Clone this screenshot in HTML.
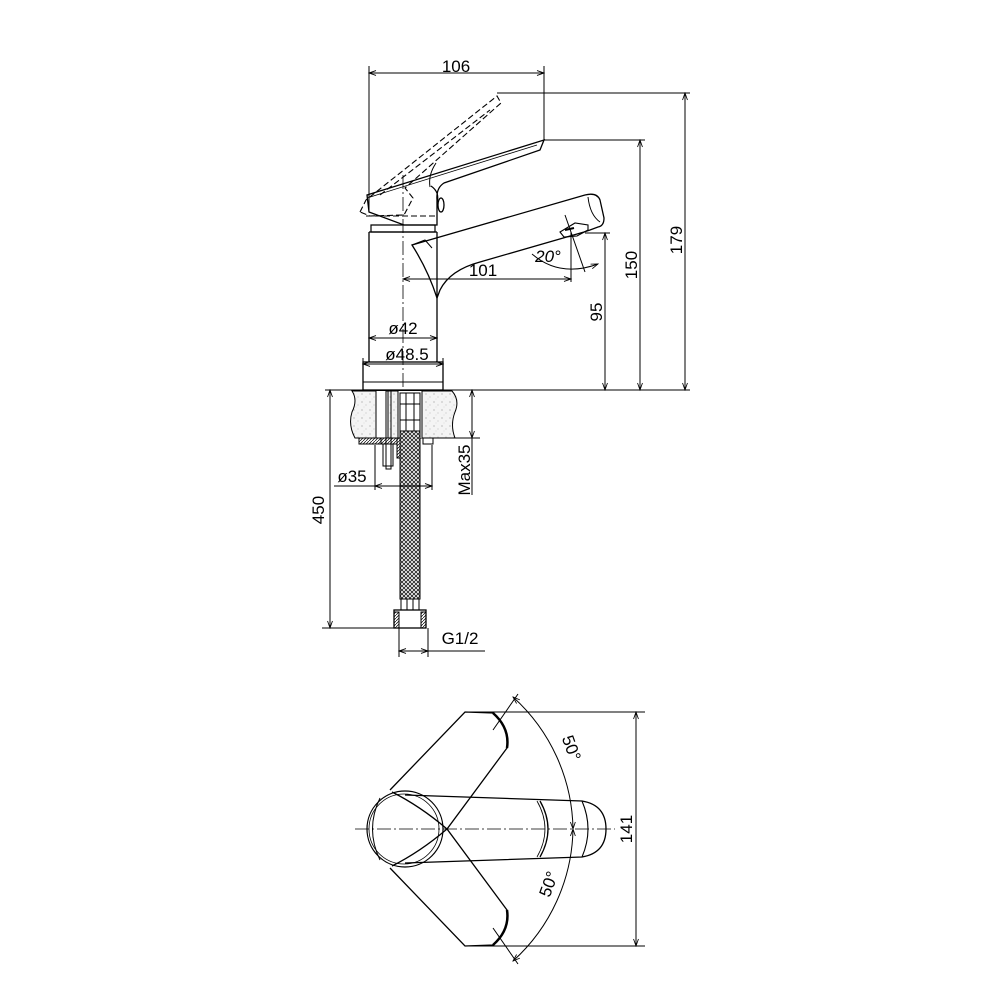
<!DOCTYPE html>
<html><head><meta charset="utf-8"><style>
html,body{margin:0;padding:0;background:#fff}
svg{display:block}
text{font-family:"Liberation Sans",sans-serif;font-size:17px;fill:#000}
</style></head><body>
<svg width="1000" height="1000" viewBox="0 0 1000 1000" xmlns="http://www.w3.org/2000/svg">
<defs>
<marker id="a" viewBox="0 0 10 10" refX="10" refY="5" markerWidth="9" markerHeight="7" orient="auto-start-reverse" markerUnits="userSpaceOnUse"><path d="M0,1.5 L10,5 L0,8.5" fill="none" stroke="#000" stroke-width="1.2"/></marker>
<pattern id="grav" width="8" height="8" patternUnits="userSpaceOnUse"><rect width="8" height="8" fill="#f4f4f4"/><circle cx="2" cy="2" r="0.6" fill="#999"/><circle cx="6" cy="5" r="0.5" fill="#aaa"/><circle cx="4" cy="7" r="0.4" fill="#bbb"/></pattern>
<pattern id="mesh" width="4" height="4" patternUnits="userSpaceOnUse"><rect width="4" height="4" fill="#fff"/><path d="M0,0 L4,4 M4,0 L0,4" stroke="#222" stroke-width="0.9"/></pattern>
<pattern id="hat" width="3" height="3" patternUnits="userSpaceOnUse"><path d="M0,3 L3,0" stroke="#000" stroke-width="0.7"/></pattern>
</defs>
<g fill="none" stroke="#000" stroke-width="1">
<line x1="369" y1="73" x2="544" y2="73" marker-start="url(#a)" marker-end="url(#a)"/>
<line x1="369" y1="66" x2="369" y2="212"/>
<line x1="544" y1="66" x2="544" y2="140"/>
<line x1="497" y1="93" x2="690" y2="93"/>
<line x1="685" y1="93" x2="685" y2="390" marker-start="url(#a)" marker-end="url(#a)"/>
<line x1="544" y1="140" x2="645" y2="140"/>
<line x1="640" y1="140" x2="640" y2="390" marker-start="url(#a)" marker-end="url(#a)"/>
<line x1="585" y1="233" x2="610" y2="233"/>
<line x1="605" y1="233" x2="605" y2="390" marker-start="url(#a)" marker-end="url(#a)"/>
<line x1="325" y1="390" x2="690" y2="390"/>
<line x1="403" y1="175" x2="403" y2="455" stroke-dasharray="14,3,2,3" stroke-width="0.8"/>
<path d="M369,232 L369,362 M437,232 L437,290 M437,290 L437,362" stroke-width="1.3"/>
<path d="M371,232 L371,225 L435,225 L435,232 Z" stroke-width="1.2"/>
<line x1="369" y1="232" x2="437" y2="232" stroke-width="1.3"/>
<rect x="363" y="362" width="80" height="28" stroke-width="1.3"/>
<line x1="363" y1="382" x2="443" y2="382"/>
<line x1="369" y1="338" x2="437" y2="338" marker-start="url(#a)" marker-end="url(#a)"/>
<line x1="363" y1="358" x2="363" y2="366"/><line x1="443" y1="358" x2="443" y2="366"/>
<line x1="363" y1="364" x2="443" y2="364" marker-start="url(#a)" marker-end="url(#a)"/>
<path d="M412,245 L585,195 Q597,192 600,200 L604,218 Q604,226 598,227 L590,230 L584,232 L480,262 Q450,270 440,290 L437,298 Q428,270 412,245 Z" stroke-width="1.3"/>
<path d="M412,245 L425,240 L432,248" stroke-width="1"/>
<path d="M588,197 Q590,215 600,222" stroke-width="1"/>
<path d="M560,232 L575,223 L588,225 L588,230 L577,236 L564,237 Z" stroke-width="1.1"/>
<path d="M565,230 L574,228" stroke-width="2"/>
<line x1="403" y1="279" x2="571" y2="279" marker-start="url(#a)" marker-end="url(#a)"/>
<line x1="571" y1="232" x2="571" y2="282"/>
<line x1="565" y1="215" x2="585" y2="272"/>
<path d="M532,254 Q560,278 598,264" marker-end="url(#a)"/>
<path d="M367,195 L544,140 L540,150 L444,183 Q436,188 437,200 L437,225 L404,225 L369,212 Z" stroke-width="1.3"/>
<path d="M367,198 L537,145" stroke-width="0.8"/>
<path d="M436,163 Q428,175 430,187" stroke-width="1"/>
<path d="M431,186 Q440,192 437,203" stroke-width="1.2"/>
<ellipse cx="441" cy="205" rx="3" ry="7" stroke-width="1.3"/>
<g stroke-dasharray="6,3" stroke-width="1.1">
<path d="M360,212 L366,200 L497,96 L501,103 L405,188 L413,198 L404,215 L370,216 Z"/>
<line x1="366" y1="216" x2="436" y2="216"/>
<line x1="380" y1="195" x2="490" y2="110"/>
</g>
<path d="M352,391 Q358,400 352,412 Q348,425 355,438 L455,438 Q450,425 455,412 Q460,400 452,391 Z" fill="url(#grav)" stroke-width="1"/>
<rect x="376" y="391" width="12" height="47" fill="#fff" stroke="none"/>
<rect x="398" y="391" width="24" height="47" fill="#fff" stroke="none"/>
<line x1="376" y1="391" x2="376" y2="438"/><line x1="388" y1="391" x2="388" y2="438"/>
<line x1="398" y1="391" x2="398" y2="438"/><line x1="422" y1="391" x2="422" y2="438"/>
<rect x="359" y="438" width="22" height="6" fill="url(#hat)"/>
<rect x="381" y="438" width="16" height="6" fill="url(#hat)"/>
<rect x="397" y="438" width="10" height="20" fill="url(#hat)"/>
<rect x="423" y="438" width="10" height="6"/>
<rect x="383" y="444" width="10" height="22"/>
<rect x="386" y="391" width="5" height="78"/>
<rect x="400" y="393" width="20" height="38" fill="#fff"/>
<line x1="400" y1="404" x2="420" y2="404"/><line x1="400" y1="420" x2="420" y2="420"/>
<line x1="406" y1="393" x2="406" y2="431"/><line x1="414" y1="393" x2="414" y2="431"/>
<rect x="400" y="431" width="20" height="168" fill="url(#mesh)"/>
<rect x="401" y="599" width="18" height="12" fill="#fff"/>
<line x1="407" y1="599" x2="407" y2="611"/><line x1="413" y1="599" x2="413" y2="611"/>
<rect x="394" y="610" width="32" height="18" fill="#fff" stroke-width="1.3"/>
<rect x="394" y="612" width="5" height="16" fill="url(#hat)"/>
<rect x="421" y="612" width="5" height="16" fill="url(#hat)"/>
<line x1="322" y1="628" x2="400" y2="628"/>
<line x1="330" y1="390" x2="330" y2="628" marker-start="url(#a)" marker-end="url(#a)"/>
<line x1="455" y1="438" x2="480" y2="438"/>
<line x1="472" y1="390" x2="472" y2="495" />
<line x1="472" y1="390" x2="472" y2="438" marker-start="url(#a)" marker-end="url(#a)"/>
<line x1="375" y1="445" x2="375" y2="490"/><line x1="432" y1="445" x2="432" y2="490"/>
<line x1="334" y1="486" x2="432" y2="486"/>
<line x1="375" y1="486" x2="432" y2="486" marker-start="url(#a)" marker-end="url(#a)"/>
<line x1="399" y1="628" x2="399" y2="657"/><line x1="428" y1="628" x2="428" y2="657"/>
<line x1="399" y1="651" x2="485" y2="651"/>
<line x1="399" y1="651" x2="428" y2="651" marker-start="url(#a)" marker-end="url(#a)"/>

<line x1="355" y1="829" x2="615" y2="829" stroke-dasharray="14,3,2,3" stroke-width="0.8"/>
<path d="M390,790 L465,712 L493,713 Q510,728 507,748 L447,829 Q420,852 392,866" stroke-width="1.3"/>
<path d="M390,868 L465,946 L493,945 Q510,930 507,910 L447,829 Q420,806 392,792" stroke-width="1.3"/>
<path d="M493,713 Q510,728 507,748 M493,945 Q510,930 507,910" stroke-width="2.5"/>
<path d="M405,795 L582,801 Q606,805 606,829 Q606,853 582,857 L405,863" stroke-width="1.3"/>
<path d="M540,801 Q556,829 540,857" stroke-width="1.3"/>
<path d="M537,801 Q553,829 537,857" stroke-width="0.8"/>
<path d="M582,801 Q594,829 582,857" stroke-width="1.1"/>
<circle cx="405" cy="829" r="38" stroke-width="1.2" fill="none"/>
<circle cx="404" cy="829" r="35" stroke-width="0.8"/>
<path d="M380,798 Q365,829 380,860" stroke-width="1"/>
<line x1="465" y1="712" x2="645" y2="712"/>
<line x1="465" y1="946" x2="645" y2="946"/>
<line x1="636" y1="712" x2="636" y2="946" marker-start="url(#a)" marker-end="url(#a)"/>
<line x1="493" y1="730" x2="518" y2="694"/>
<line x1="493" y1="928" x2="518" y2="964"/>
<path d="M513,697 A182,182 0 0 1 573,829" marker-start="url(#a)" marker-end="url(#a)"/>
<path d="M573,829 A182,182 0 0 1 513,961" marker-start="url(#a)" marker-end="url(#a)"/>
</g>
<text x="456" y="72" text-anchor="middle">106</text>
<text transform="translate(682,240) rotate(-90)" text-anchor="middle">179</text>
<text transform="translate(637,265) rotate(-90)" text-anchor="middle">150</text>
<text transform="translate(602,312) rotate(-90)" text-anchor="middle">95</text>
<text x="403" y="334" text-anchor="middle">ø42</text>
<text x="407" y="360" text-anchor="middle">ø48.5</text>
<text x="483" y="276" text-anchor="middle">101</text>
<text x="548" y="262" text-anchor="middle" font-style="italic">20°</text>
<text transform="translate(324,510) rotate(-90)" text-anchor="middle">450</text>
<text transform="translate(470,470) rotate(-90)" text-anchor="middle">Max35</text>
<text x="352" y="482" text-anchor="middle">ø35</text>
<text x="460" y="644" text-anchor="middle">G1/2</text>
<text transform="translate(632,829) rotate(-90)" text-anchor="middle">141</text>
<text transform="translate(566,750) rotate(70)" text-anchor="middle">50°</text>
<text transform="translate(554,886) rotate(-70)" text-anchor="middle">50°</text>
</svg>
</body></html>
